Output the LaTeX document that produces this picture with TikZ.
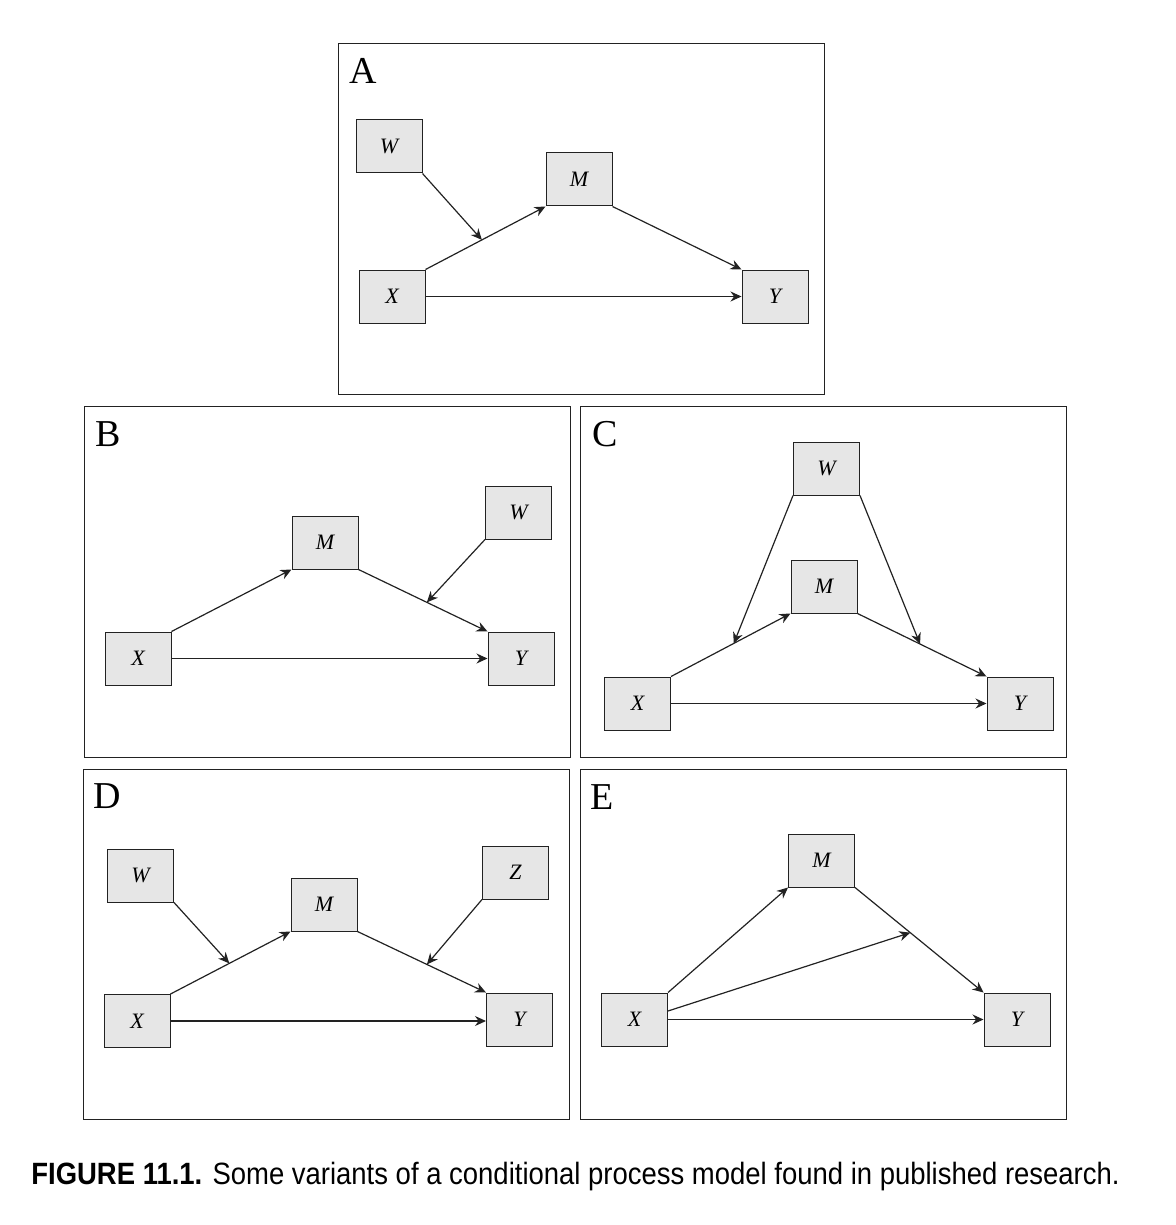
\documentclass[tikz,border=0pt]{standalone}
\usepackage{fontspec}
\setmainfont{Liberation Serif}
\newfontfamily\captionfont{Liberation Sans}
\usepackage{tikz}
\usetikzlibrary{arrows.meta, calc}
\definecolor{boxgray}{HTML}{E6E6E6}
\definecolor{linegray}{HTML}{222222}

\begin{document}
\begin{tikzpicture}[
    x=0.5pt, y=-0.5pt,
    >={Stealth[length=5.5pt, width=5pt, inset=1.8pt]},
    var/.style={
      draw=linegray, line width=0.5pt, fill=boxgray,
      minimum width=33pt, minimum height=26.5pt, inner sep=0pt,
      font=\fontsize{11}{12}\selectfont\itshape
    },
    panel/.style={draw=linegray, line width=0.5pt},
    tag/.style={font=\fontsize{19}{22}\selectfont, inner sep=0pt},
    path/.style={->, draw=linegray, line width=0.6pt}
  ]
  \useasboundingbox (0,0) rectangle (1175,1225);

  % frames
  \draw[panel] (338,44) rectangle (824,394);
  \draw[panel] (84,406) rectangle (570,757);
  \draw[panel] (580,406) rectangle (1066,757);
  \draw[panel] (83,769) rectangle (569,1119);
  \draw[panel] (580,769) rectangle (1066,1119);

  % A
  \node[tag] (tagA) at (363,71) {A};
  \node[var] (aW) at (389,146.5) {W};
  \node[var] (aM) at (579,179.5) {M};
  \node[var] (aX) at (392,296.5) {X};
  \node[var] (aY) at (775,296.5) {Y};
  \coordinate (aXM) at ($(aX.north east)!0.47!(aM.south west)$);
  \draw[path] (aX.north east) -- (aM.south west);
  \draw[path] (aM.south east) -- (aY.north west);
  \draw[path] (aX.east) -- (aY.west);
  \draw[path] (aW.south east) -- (aXM);

  % B
  \node[tag] (tagB) at (108,434) {B};
  \node[var] (bM) at (325,542.5) {M};
  \node[var] (bW) at (518.5,512.5) {W};
  \node[var] (bX) at (138,658.5) {X};
  \node[var] (bY) at (521,658.5) {Y};
  \coordinate (bMY) at ($(bM.south east)!0.53!(bY.north west)$);
  \draw[path] (bX.north east) -- (bM.south west);
  \draw[path] (bM.south east) -- (bY.north west);
  \draw[path] (bX.east) -- (bY.west);
  \draw[path] (bW.south west) -- (bMY);

  % C
  \node[tag] (tagC) at (605,434) {C};
  \node[var] (cW) at (826.5,468.5) {W};
  \node[var] (cM) at (824,586.5) {M};
  \node[var] (cX) at (637.5,703.5) {X};
  \node[var] (cY) at (1020,703.5) {Y};
  \coordinate (cXM) at ($(cX.north east)!0.525!(cM.south west)$);
  \coordinate (cMY) at ($(cM.south east)!0.485!(cY.north west)$);
  \draw[path] (cX.north east) -- (cM.south west);
  \draw[path] (cM.south east) -- (cY.north west);
  \draw[path] (cX.east) -- (cY.west);
  \draw[path] (cW.south west) -- (cXM);
  \draw[path] (cW.south east) -- (cMY);

  % D
  \node[tag] (tagD) at (107,796) {D};
  \node[var] (dW) at (140.5,875.5) {W};
  \node[var] (dM) at (324,904.5) {M};
  \node[var] (dZ) at (515.5,872.5) {Z};
  \node[var] (dX) at (137,1021) {X};
  \node[var] (dY) at (519.5,1019.5) {Y};
  \coordinate (dXM) at ($(dX.north east)!0.49!(dM.south west)$);
  \coordinate (dMY) at ($(dM.south east)!0.54!(dY.north west)$);
  \draw[path] (dX.north east) -- (dM.south west);
  \draw[path] (dM.south east) -- (dY.north west);
  \draw[path] (dX.east) -- (dY.west |- dX.east);
  \draw[path] (dW.south east) -- (dXM);
  \draw[path] (dZ.south west) -- (dMY);

  % E
  \node[tag] (tagE) at (602,797) {E};
  \node[var] (eM) at (821.5,860.5) {M};
  \node[var] (eX) at (634.5,1019.5) {X};
  \node[var] (eY) at (1017,1019.5) {Y};
  \coordinate (eMY) at ($(eM.south east)!0.43!(eY.north west)$);
  \draw[path] (eX.north east) -- (eM.south west);
  \draw[path] (eM.south east) -- (eY.north west);
  \draw[path] (eX.east) -- (eY.west);
  \draw[path] ([yshift=4.25pt]eX.east) -- (eMY);

  \node[anchor=base west, inner sep=0pt, xscale=0.892, font=\captionfont\fontsize{15.4}{18}\selectfont] (caption)
    at (31,1184) {\textbf{FIGURE 11.1.} Some variants of a conditional process model found in published research.};

\end{tikzpicture}
\end{document}
